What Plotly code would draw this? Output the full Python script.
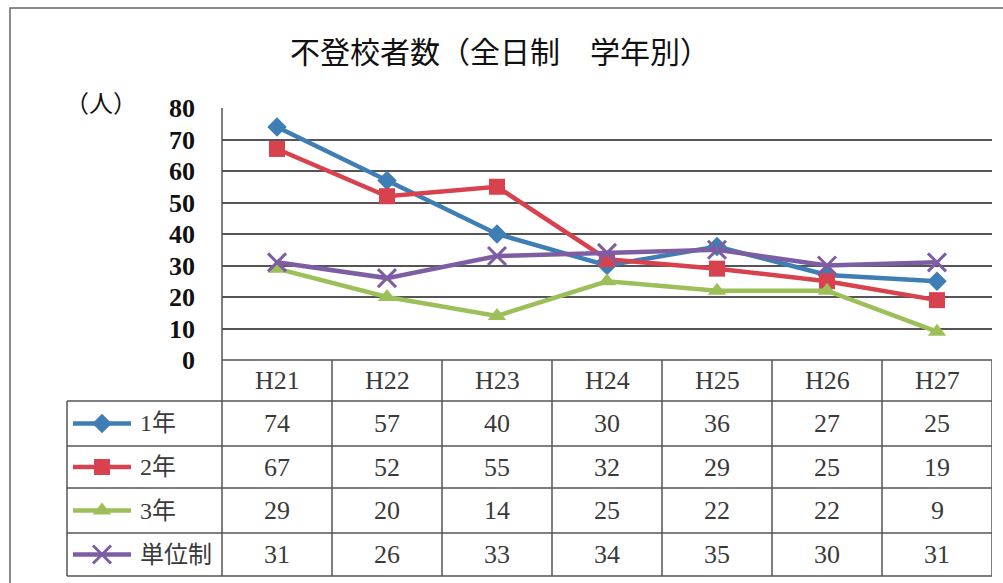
import plotly.graph_objects as go

W, H = 1003, 583

categories = ["H21", "H22", "H23", "H24", "H25", "H26", "H27"]
series_names = ["1年", "2年", "3年", "単位制"]
grade1 = [74, 57, 40, 30, 36, 27, 25]
grade2 = [67, 52, 55, 32, 29, 25, 19]
grade3 = [29, 20, 14, 25, 22, 22, 9]
credit = [31, 26, 33, 34, 35, 30, 31]
y_ticks = [0, 10, 20, 30, 40, 50, 60, 70, 80]

series_values = [grade1, grade2, grade3, credit]
colors = ["#3F7DB5", "#D8424F", "#9DBF5A", "#7D5EA3"]
symbols = ["diamond", "square", "triangle-up", "x-thin"]
msizes = [15, 16, 16, 18]

def px_x(v):
    return v / W

def px_y(v):
    return 1 - v / H

PLOT_L, PLOT_R, PLOT_T, PLOT_B = 222, 992, 108, 360
ROW_EDGES = [360, 401, 446, 488, 533, 576]
LABEL_L = 67
KEY_X0, KEY_X1, LABEL_X = 73, 131, 138
GRID = "#555555"
SERIF = "Liberation Serif, Noto Sans CJK JP"
NUM_SIZE = 26

fig = go.Figure()
for name, vals, c, s, ms in zip(series_names, series_values, colors, symbols, msizes):
    mline = dict(color=c, width=3 if s == "x-thin" else 0)
    fig.add_trace(go.Scatter(
        x=categories, y=vals, name=name, mode="lines+markers",
        line=dict(color=c, width=4.5),
        marker=dict(symbol=s, size=ms, color=c, line=mline),
        showlegend=False,
    ))

# legend keys in the table's label column (pixel overlay axes)
for r, (name, c, s, ms) in enumerate(zip(series_names, colors, symbols, msizes)):
    cy = (ROW_EDGES[r + 1] + ROW_EDGES[r + 2]) / 2
    mline = dict(color=c, width=3 if s == "x-thin" else 0)
    fig.add_trace(go.Scatter(
        x=[KEY_X0, KEY_X1], y=[cy, cy],
        mode="lines", line=dict(color=c, width=4.5), xaxis="x2", yaxis="y2",
        showlegend=False, hoverinfo="skip", cliponaxis=False,
    ))
    fig.add_trace(go.Scatter(
        x=[(KEY_X0 + KEY_X1) / 2], y=[cy], mode="markers",
        marker=dict(symbol=s, size=ms, color=c, line=mline), xaxis="x2", yaxis="y2",
        showlegend=False, hoverinfo="skip", cliponaxis=False,
    ))

shapes = []
shapes.append(dict(type="rect", xref="paper", yref="paper", x0=px_x(10), x1=px_x(1012),
                   y0=px_y(592), y1=px_y(8), line=dict(color="#666", width=1.5)))
shapes.append(dict(type="line", xref="paper", yref="paper", x0=px_x(PLOT_L), x1=px_x(PLOT_R),
                   y0=px_y(ROW_EDGES[0]), y1=px_y(ROW_EDGES[0]), line=dict(color=GRID, width=1.5)))
for ry in ROW_EDGES[1:]:
    shapes.append(dict(type="line", xref="paper", yref="paper", x0=px_x(LABEL_L), x1=px_x(PLOT_R),
                       y0=px_y(ry), y1=px_y(ry), line=dict(color=GRID, width=1.5)))
shapes.append(dict(type="line", xref="paper", yref="paper", x0=px_x(LABEL_L), x1=px_x(LABEL_L),
                   y0=px_y(ROW_EDGES[1]), y1=px_y(ROW_EDGES[-1]), line=dict(color=GRID, width=1.5)))
shapes.append(dict(type="line", xref="paper", yref="paper", x0=px_x(PLOT_L), x1=px_x(PLOT_L),
                   y0=px_y(PLOT_T), y1=px_y(ROW_EDGES[-1]), line=dict(color=GRID, width=1.5)))
for i in range(len(categories)):
    shapes.append(dict(type="line", xref="x", yref="paper", x0=i + 0.5, x1=i + 0.5,
                       y0=px_y(ROW_EDGES[0]), y1=px_y(ROW_EDGES[-1]), line=dict(color=GRID, width=1.5)))

annotations = []
annotations.append(dict(text="不登校者数（全日制　学年別）", xref="paper", yref="paper",
                        x=px_x(500), y=px_y(50), showarrow=False, xanchor="center", yanchor="middle",
                        font=dict(family="Noto Sans CJK JP", size=30, color="#111")))
annotations.append(dict(text="（人）", xref="paper", yref="paper",
                        x=px_x(101), y=px_y(102), showarrow=False, xanchor="center", yanchor="middle",
                        font=dict(family="Noto Sans CJK JP", size=24, color="#111")))
hdr_c = (ROW_EDGES[0] + ROW_EDGES[1]) / 2
for i, cat in enumerate(categories):
    annotations.append(dict(text=cat, xref="x", yref="paper", x=i, y=px_y(hdr_c),
                            showarrow=False, xanchor="center", yanchor="middle",
                            font=dict(family=SERIF, size=NUM_SIZE, color="#3a3a3a")))
for r, (name, vals) in enumerate(zip(series_names, series_values)):
    cy = (ROW_EDGES[r + 1] + ROW_EDGES[r + 2]) / 2
    annotations.append(dict(text=name, xref="paper", yref="paper", x=px_x(LABEL_X), y=px_y(cy),
                            showarrow=False, xanchor="left", yanchor="middle",
                            font=dict(family=SERIF, size=24, color="#3a3a3a")))
    for i, v in enumerate(vals):
        annotations.append(dict(text=str(v), xref="x", yref="paper", x=i, y=px_y(cy),
                                showarrow=False, xanchor="center", yanchor="middle",
                                font=dict(family=SERIF, size=NUM_SIZE, color="#3a3a3a")))

fig.update_layout(
    width=W, height=H,
    margin=dict(l=0, r=0, t=0, b=0, autoexpand=False),
    paper_bgcolor="white", plot_bgcolor="rgba(0,0,0,0)",
    xaxis=dict(domain=[px_x(PLOT_L), px_x(PLOT_R)], type="category", range=[-0.5, 6.5],
               showticklabels=False, showgrid=False, showline=False, zeroline=False, ticks=""),
    yaxis=dict(domain=[px_y(PLOT_B), px_y(PLOT_T)], range=[0, 80], tickvals=y_ticks,
               showgrid=True, gridcolor=GRID, gridwidth=1.5, zeroline=False, showline=False,
               ticks="", ticklabelstandoff=26,
               tickfont=dict(family="Liberation Serif", size=NUM_SIZE, color="#111", weight="bold")),
    xaxis2=dict(domain=[0, 1], range=[0, W], visible=False, anchor="y2", fixedrange=True),
    yaxis2=dict(domain=[0, 1], range=[H, 0], visible=False, anchor="x2", fixedrange=True),
    showlegend=False,
    shapes=shapes,
    annotations=annotations,
)

fig.write_html("out.html", config={"displayModeBar": False},
               post_script="document.body.style.margin='0';")
